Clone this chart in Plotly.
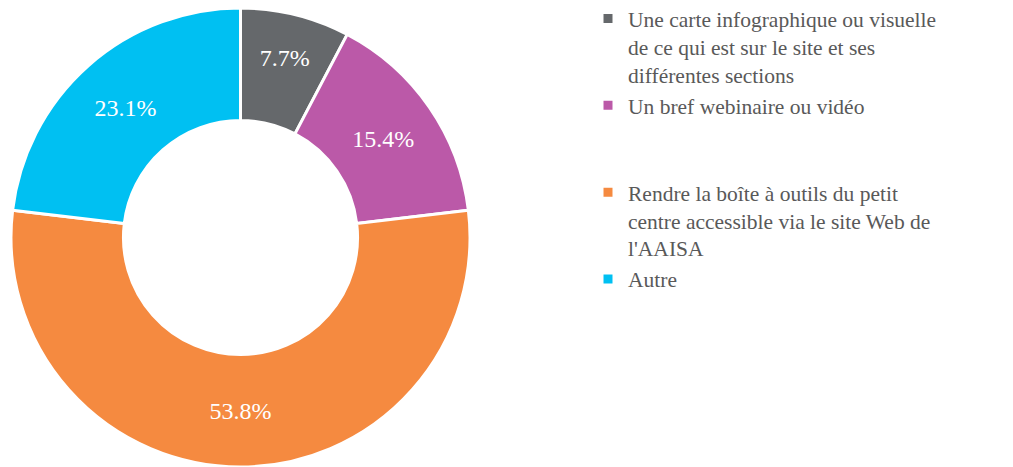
import plotly.graph_objects as go

labels = [
    "Une carte infographique ou visuelle<br>de ce qui est sur le site et ses<br>différentes sections",
    "Un bref webinaire ou vidéo<br> <br> ",
    "Rendre la boîte à outils du petit<br>centre accessible via le site Web de<br>l'AAISA",
    "Autre",
]
values = [7.7, 15.4, 53.8, 23.1]
colors = ["#65686B", "#BB59A8", "#F58A40", "#00C0F2"]

W, H = 1005, 459

fig = go.Figure(
    go.Pie(
        labels=labels,
        values=values,
        hole=0.51,
        sort=False,
        direction="clockwise",
        rotation=0,
        marker=dict(colors=colors, line=dict(color="white", width=3)),
        texttemplate="%{value:.1f}%",
        textposition="inside",
        insidetextorientation="horizontal",
        textfont=dict(family="Liberation Serif", size=24, color="white"),
        domain=dict(x=[3 / W, 462 / W], y=[0, 1]),
        hoverinfo="label+percent",
    )
)

fig.update_layout(
    width=W,
    height=H,
    margin=dict(l=0, r=0, t=0, b=0, autoexpand=False),
    paper_bgcolor="white",
    plot_bgcolor="white",
    showlegend=True,
    legend=dict(
        x=580 / W,
        y=1 + 10 / H,
        xanchor="left",
        yanchor="top",
        valign="top",
        maxheight=460,
        font=dict(family="Liberation Serif", size=21.5, color="#595959"),
        bgcolor="rgba(0,0,0,0)",
        traceorder="normal",
    ),
)

fig.write_html("out.html")
